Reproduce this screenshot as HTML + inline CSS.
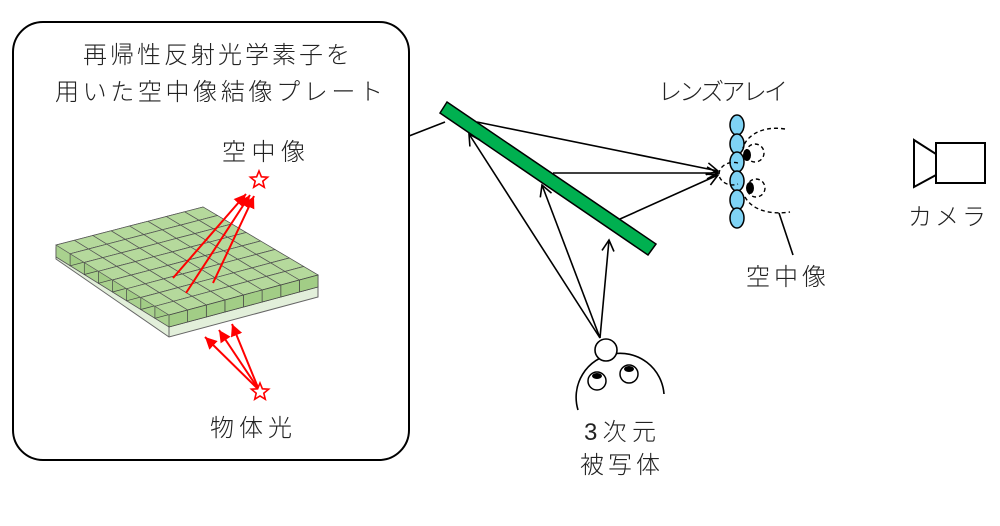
<!DOCTYPE html>
<html><head><meta charset="utf-8"><style>
html,body{margin:0;padding:0;background:#fff;}
svg{display:block;}
text{font-family:"Liberation Sans","Noto Sans CJK JP",sans-serif;font-size:24px;fill:#222;font-weight:300;}
</style></head><body>
<svg id="s" width="1000" height="526" viewBox="0 0 1000 526" xmlns="http://www.w3.org/2000/svg">
<defs>
<marker id="ah" markerWidth="14" markerHeight="14" refX="12" refY="7" orient="auto" markerUnits="userSpaceOnUse">
<path d="M1,1 L12,7 L1,13" fill="none" stroke="#000" stroke-width="1.6"/></marker>
<marker id="rh" markerWidth="14" markerHeight="12" refX="12" refY="6" orient="auto" markerUnits="userSpaceOnUse">
<path d="M0,0 L12,6 L0,12 Z" fill="#f00"/></marker>
</defs>
<rect x="13" y="22" width="396" height="438" rx="30" fill="none" stroke="#000" stroke-width="2"/>
<text x="83" y="63" textLength="267">再帰性反射光学素子を</text>
<text x="55" y="100" textLength="328">用いた空中像結像プレート</text>
<text x="222" y="160" textLength="83">空中像</text>
<text x="210" y="436" textLength="82">物体光</text>
<polygon points="56,248 169,326 318,286 318,297 169,337 56,259" fill="#e2efda" stroke="#666" stroke-width="1"/>
<line x1="169" y1="326" x2="169" y2="337" stroke="#666"/>
<polygon points="56,245 203,207 318,275 318,287 169,327 56,257" fill="#a9d18e" stroke="#555" stroke-width="0.8"/>
<g id="grid"></g>
<g stroke="#f00" stroke-width="2" fill="none">
<line x1="173" y1="278" x2="246" y2="194" marker-end="url(#rh)"/>
<line x1="186" y1="293" x2="250" y2="195" marker-end="url(#rh)"/>
<line x1="213" y1="283" x2="254" y2="196" marker-end="url(#rh)"/>
<line x1="259" y1="390" x2="205" y2="337" marker-end="url(#rh)"/>
<line x1="259" y1="390" x2="219" y2="330" marker-end="url(#rh)"/>
<line x1="259" y1="390" x2="232" y2="324" marker-end="url(#rh)"/>
</g>
<polygon id="st1" fill="#fff" stroke="#f00" stroke-width="1.6"/>
<polygon id="st2" fill="#fff" stroke="#f00" stroke-width="1.6"/>
<line x1="409" y1="136" x2="445" y2="122" stroke="#000" stroke-width="1.6"/>
<polygon points="447,102 656,244 648,255 440,113" fill="#00b050" stroke="#000" stroke-width="1.5"/>
<g stroke="#000" stroke-width="1.6" fill="none">
<line x1="600" y1="338" x2="469" y2="134" marker-end="url(#ah)"/>
<line x1="600" y1="338" x2="542" y2="185" marker-end="url(#ah)"/>
<line x1="600" y1="338" x2="609" y2="240" marker-end="url(#ah)"/>
<line x1="477" y1="122" x2="718" y2="171" marker-end="url(#ah)"/>
<line x1="553" y1="173" x2="718" y2="173" marker-end="url(#ah)"/>
<line x1="620" y1="219" x2="718" y2="175" marker-end="url(#ah)"/>
</g>
<g fill="#7fd3f5" stroke="#000" stroke-width="1.5">
<ellipse cx="737" cy="125" rx="7" ry="10"/>
<ellipse cx="737" cy="144" rx="7" ry="10"/>
<ellipse cx="737" cy="162" rx="7" ry="10"/>
<ellipse cx="737" cy="181" rx="7" ry="10"/>
<ellipse cx="737" cy="200" rx="7" ry="10"/>
<ellipse cx="737" cy="218" rx="7" ry="10"/>
</g>
<g fill="none" stroke="#000" stroke-width="1.4" stroke-dasharray="4,3">
<path d="M785,129 C760,125 745,138 743,148"/>
<path d="M745,197 C752,210 770,215 790,212"/>
<circle cx="755" cy="153" r="9"/>
<circle cx="756" cy="188" r="9"/>
<path d="M738,163 C725,160 716,170 720,178 C724,185 732,186 738,184"/>
</g>
<ellipse cx="747" cy="155" rx="4" ry="6" fill="#000"/>
<ellipse cx="750" cy="188" rx="4" ry="6" fill="#000"/>
<line x1="779" y1="213" x2="793" y2="255" stroke="#000" stroke-width="1.6"/>
<text x="746" y="285" textLength="80">空中像</text>
<text x="658" y="100" textLength="130">レンズアレイ</text>
<polygon points="914,140 936,154 936,175 914,187" fill="#fff" stroke="#000" stroke-width="2"/>
<rect x="936" y="143" width="49" height="40" fill="#fff" stroke="#000" stroke-width="2"/>
<text x="908" y="225" textLength="78">カメラ</text>
<path d="M578,410 A44,44 0 1 1 664,394" fill="#fff" stroke="#000" stroke-width="1.6"/>
<circle cx="606" cy="350" r="11" fill="#fff" stroke="#000" stroke-width="1.6"/>
<circle cx="597" cy="381" r="9" fill="#fff" stroke="#000" stroke-width="1.5"/>
<circle cx="629" cy="374" r="9" fill="#fff" stroke="#000" stroke-width="1.5"/>
<ellipse cx="597" cy="376" rx="5" ry="3" fill="#000"/>
<ellipse cx="629" cy="369" rx="5" ry="3" fill="#000"/>
<text x="584" y="440" textLength="72">3次元</text>
<text x="580" y="473" textLength="80">被写体</text>
</svg>
<script>
(function(){
var NS="http://www.w3.org/2000/svg";
function star(id,cx,cy,R,r){var p=[];for(var i=0;i<10;i++){var a=-Math.PI/2+i*Math.PI/5,rr=i%2?r:R;p.push((cx+rr*Math.cos(a)).toFixed(1)+","+(cy+rr*Math.sin(a)).toFixed(1));}document.getElementById(id).setAttribute("points",p.join(" "));}
star("st1",259,180,9,4);star("st2",260,392,9,4);
var A=[56,257],B=[203,219],C=[318,287],D=[169,327];
function P(u,v){var x=(1-u)*(1-v)*A[0]+u*(1-v)*B[0]+u*v*C[0]+(1-u)*v*D[0];var y=(1-u)*(1-v)*A[1]+u*(1-v)*B[1]+u*v*C[1]+(1-u)*v*D[1];return [x,y];}
var g=document.getElementById("grid");
var nu=8,nv=8,h=12;
for(var i=nu-1;i>=0;i--){for(var j=0;j<nv;j++){
 var p1=P(i/nu,j/nv),p2=P((i+1)/nu,j/nv),p3=P((i+1)/nu,(j+1)/nv),p4=P(i/nu,(j+1)/nv);
 var top=document.createElementNS(NS,"polygon");
 top.setAttribute("points",[p1,p2,p3,p4].map(function(p){return p[0].toFixed(1)+","+(p[1]-h).toFixed(1)}).join(" "));
 top.setAttribute("fill","#b5d99c");top.setAttribute("stroke","#555");top.setAttribute("stroke-width","0.7");
 var fr=document.createElementNS(NS,"polygon");
 fr.setAttribute("points",[[p4[0],p4[1]-h],[p3[0],p3[1]-h],[p3[0],p3[1]],[p4[0],p4[1]]].map(function(p){return p[0].toFixed(1)+","+p[1].toFixed(1)}).join(" "));
 fr.setAttribute("fill","#a2cd86");fr.setAttribute("stroke","#444");fr.setAttribute("stroke-width","0.7");
 g.appendChild(top);g.appendChild(fr);
}}
})();
</script>
</body></html>
